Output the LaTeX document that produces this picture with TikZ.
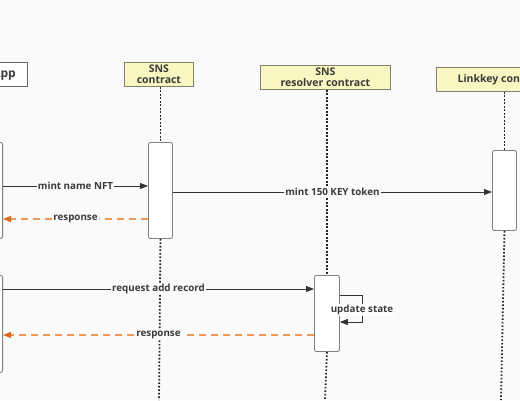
\documentclass[tikz,border=0pt]{standalone}
\usepackage{fontspec}
\setmainfont{Open Sans}
\usetikzlibrary{arrows.meta}
\definecolor{bg}{HTML}{FAFAFA}
\definecolor{hdrfill}{HTML}{FAF6C2}
\definecolor{hdrdraw}{HTML}{80806A}
\definecolor{actdraw}{HTML}{808080}
\definecolor{msg}{HTML}{333333}
\definecolor{resp}{HTML}{EC9A58}
\definecolor{resptip}{HTML}{DD6B1E}
\definecolor{txt}{HTML}{3A3A3A}
\tikzset{
  hdr/.style={draw=hdrdraw, fill=hdrfill, line width=0.9pt, minimum height=24pt, inner sep=0.5pt, align=center, font=\fontsize{10.5}{11}\selectfont\bfseries, text=txt, anchor=north west},
  actbox/.style={draw=actdraw, fill=white, rounded corners=2pt, line width=0.9pt, anchor=north west, minimum width=24pt, inner sep=0pt},
  life/.style={line width=1.8pt, dash pattern=on 1.6pt off 1.9pt, draw=black!85},
  call/.style={draw=msg, line width=0.9pt, -{Triangle[length=8pt,width=6pt]}},
  ret/.style={draw=resp, line width=1.1pt, dash pattern=on 7pt off 5pt, -{Triangle[length=8pt,width=6pt,color=resptip]}},
  lbl/.style={fill=bg, inner sep=1pt, font=\fontsize{9.8}{10}\selectfont\bfseries, text=txt},
}
\begin{document}
\begin{tikzpicture}[x=1pt,y=-1pt]
\useasboundingbox[fill=bg] (0,0) rectangle (520,400);
% headers
\node[hdr, draw=black!60, fill=white, minimum width=47pt, font=\fontsize{12}{12}\selectfont\bfseries, anchor=north east] (happ) at (28,62) {App};
\node[hdr, minimum width=69pt] (hsns) at (124,62) {SNS\\contract};
\node[hdr, minimum width=130pt] (hres) at (260,65) {SNS\\resolver contract};
\node[hdr, minimum width=130pt] (hlk) at (436,67) {Linkkey contract};
% activation boxes
\node[actbox, minimum height=96pt, anchor=north east] (a1) at (3,142) {};
\node[actbox, minimum height=97pt, anchor=north east] (a2) at (3,275) {};
\node[actbox] (s1) at (148,142) [minimum height=96pt] {};
\node[actbox] (k1) at (492,150) [minimum height=80pt] {};
\node[actbox, minimum width=25pt] (r1) at (314,275) [minimum height=76pt] {};
% lifelines
\coordinate (sEnd) at (159,400);
\coordinate (rEnd) at (325,400);
\coordinate (kEnd) at (501,400);
\draw[life] (hsns.south -| s1.north) -- (s1.north);
\draw[life] (s1.south) -- (sEnd);
\draw[life] (hres.south -| r1.north) -- (r1.north);
\draw[life] (r1.south) -- (rEnd);
\draw[life] (hlk.south -| k1.north) -- (k1.north);
\draw[life] (k1.south) -- (kEnd);
% messages
\draw[call] (a1.east |- 0,186) -- node[lbl]{mint name NFT} (s1.west |- 0,186);
\draw[ret] (s1.west |- 0,219) -- node[lbl]{response} (a1.east |- 0,219);
\draw[call] (s1.east |- 0,192) -- node[lbl]{mint 150 KEY token} (k1.west |- 0,192);
\draw[call] (a2.east |- 0,289) -- node[lbl]{request add record} (r1.west |- 0,289);
\draw[ret] (r1.west |- 0,335) -- node[lbl]{response} (a2.east |- 0,335);
\draw[call] (r1.east |- 0,295) -- (362,295) -- (362,322) -- (r1.east |- 0,322);
\node[lbl, fill=white] (us) at (362,310) {update state};
\end{tikzpicture}
\end{document}
